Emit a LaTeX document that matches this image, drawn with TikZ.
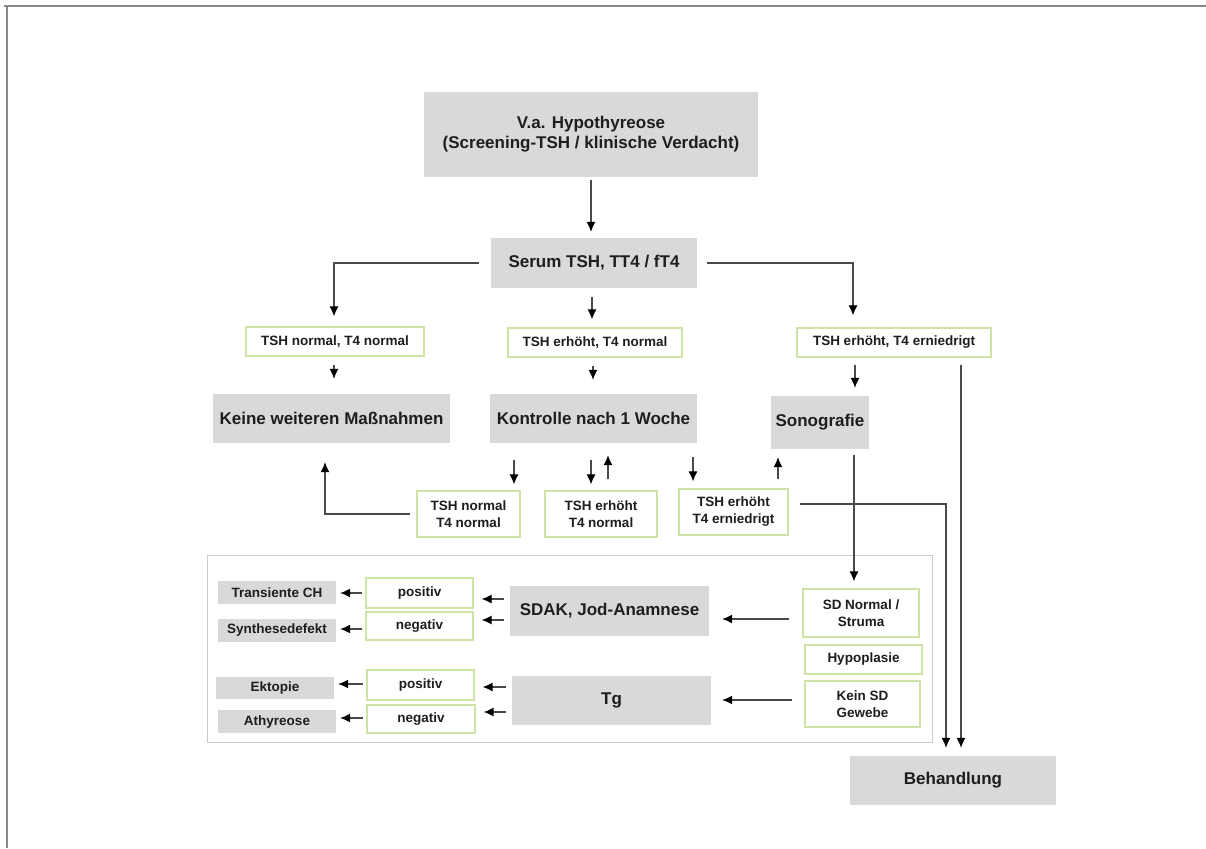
\documentclass[tikz,border=0pt]{standalone}
\usepackage{fontspec}
\setmainfont{Liberation Sans}
\usetikzlibrary{arrows.meta}
\definecolor{boxgray}{HTML}{D9D9D9}
\definecolor{boxgreen}{HTML}{CFE3A6}
\definecolor{linegray}{HTML}{4A4A4A}
\definecolor{txt}{HTML}{1E1E1E}
\definecolor{framegray}{HTML}{888888}
\definecolor{innergray}{HTML}{CCCCCC}
\begin{document}
\begin{tikzpicture}[x=1pt,y=-1pt,
  gbox/.style={fill=boxgray, draw=none, inner sep=0pt, align=center, text=txt,
    font=\bfseries\fontsize{17}{20}\selectfont},
  gboxr/.style={gbox, font=\bfseries\fontsize{17}{20}\selectfont},
  sgray/.style={fill=boxgray, draw=none, inner sep=0pt, align=center, text=txt,
    font=\bfseries\fontsize{13.5}{16}\selectfont},
  lbox/.style={draw=boxgreen, line width=1.3pt, fill=white, inner sep=0pt, align=center, text=txt,
    font=\bfseries\fontsize{13.5}{17}\selectfont},
  arr/.style={draw=linegray, line width=1.1pt, -{Latex[length=10pt,width=9pt,color=black]}}
]
\useasboundingbox (0,0) rectangle (1206,848);
% outer frame
\draw[framegray, line width=2pt] (4,6.5) -- (1206,6.5);
\draw[framegray, line width=2pt] (7,6) -- (7,848);
% inner frame
\draw[innergray, line width=1pt] (207,555) rectangle (932,742);

% nodes
\node[gbox, minimum width=334pt, minimum height=85pt] (top) at (591,134.5)
  {V.a. Hypothyreose\\(Screening-TSH / klinische Verdacht)};
\node[gbox, minimum width=206pt, minimum height=50pt] (serum) at (594,263) {Serum TSH, TT4 / fT4};
\node[lbox, minimum width=178pt, minimum height=29pt] (g1) at (335,341.5) {TSH normal, T4 normal};
\node[lbox, minimum width=174pt, minimum height=29pt] (g2) at (595,342.5) {TSH erhöht, T4 normal};
\node[lbox, minimum width=194pt, minimum height=29pt] (g3) at (894,342.5) {TSH erhöht, T4 erniedrigt};
\node[gbox, minimum width=237pt, minimum height=49pt] (keine) at (331.5,418.5) {Keine weiteren Maßnahmen};
\node[gbox, minimum width=207pt, minimum height=49pt] (kontr) at (593.5,418.5) {Kontrolle nach 1 Woche};
\node[gbox, minimum width=98pt, minimum height=53pt] (sono) at (820,422.5) {Sonografie};
\node[lbox, minimum width=103pt, minimum height=46pt] (s1) at (468.5,514) {TSH normal\\T4 normal};
\node[lbox, minimum width=112pt, minimum height=46pt] (s2) at (601,514) {TSH erhöht\\T4 normal};
\node[lbox, minimum width=109pt, minimum height=46pt] (s3) at (733.5,512) {TSH erhöht\\T4 erniedrigt};

\node[sgray, minimum width=118pt, minimum height=23pt] (trans) at (277,592.5) {Transiente CH};
\node[sgray, minimum width=118pt, minimum height=23pt] (synth) at (277,630.5) {Synthesedefekt};
\node[sgray, minimum width=118pt, minimum height=22pt] (ekto) at (275,688) {Ektopie};
\node[sgray, minimum width=118pt, minimum height=23pt] (athy) at (277,721.5) {Athyreose};
\node[lbox, minimum width=107pt, minimum height=30pt] (pos1) at (419.5,593) {positiv};
\node[lbox, minimum width=107pt, minimum height=28pt] (neg1) at (419.5,626) {negativ};
\node[lbox, minimum width=107pt, minimum height=30pt] (pos2) at (420.5,685) {positiv};
\node[lbox, minimum width=108pt, minimum height=28pt] (neg2) at (421,719) {negativ};
\node[gboxr, minimum width=199pt, minimum height=50pt] (sdak) at (609.5,611) {SDAK, Jod-Anamnese};
\node[gboxr, minimum width=199pt, minimum height=49pt] (tg) at (611.5,700.5) {Tg};
\node[lbox, minimum width=116pt, minimum height=48pt] (sdn) at (861,613) {SD Normal /\\Struma};
\node[lbox, minimum width=117pt, minimum height=29pt] (hypo) at (863.5,659.5) {Hypoplasie};
\node[lbox, minimum width=115pt, minimum height=46pt] (kein) at (862.5,704) {Kein SD\\Gewebe};
\node[gbox, minimum width=206pt, minimum height=49pt] (beh) at (953,780.5) {Behandlung};

% connectors
\draw[arr, shorten <=3pt, shorten >=6pt] (top.south) -- (top.south |- serum.north);
\draw[arr, shorten <=12pt, shorten >=10pt] (serum.west) -| ([xshift=-1pt]g1.north);
\draw[arr, shorten <=10pt, shorten >=12pt] (serum.east) -| ([xshift=-41pt]g3.north);
\draw[arr, shorten <=9pt, shorten >=8pt] ([xshift=-3pt]g2.north |- serum.south) -- ([xshift=-3pt]g2.north);
\draw[arr, shorten <=8pt, shorten >=15pt] ([xshift=-1pt]g1.south) -- ([xshift=-1pt]g1.south |- keine.north);
\draw[arr, shorten <=8pt, shorten >=14pt] ([xshift=-2pt]g2.south) -- ([xshift=-2pt]g2.south |- kontr.north);
\draw[arr, shorten <=7pt, shorten >=8pt] ([xshift=-39pt]g3.south) -- ([xshift=-39pt]g3.south |- sono.north);
\draw[arr, shorten <=7pt, shorten >=8pt] ([xshift=67pt]g3.south) -- ([xshift=67pt]g3.south |- beh.north);
\draw[arr, shorten <=6pt, shorten >=7pt] ([xshift=34pt]sono.south) -- ([xshift=34pt]sono.south |- sdn.north);
\draw[arr, shorten <=11pt, shorten >=8pt] ([yshift=8pt]s3.east) -| ([xshift=-7pt]beh.north);
% Kontrolle row
\draw[arr, shorten <=17pt, shorten >=6pt] ([xshift=45.5pt]s1.north |- kontr.south) -- ([xshift=45.5pt]s1.north);
\draw[arr, shorten <=17pt, shorten >=6pt] ([xshift=-10pt]s2.north |- kontr.south) -- ([xshift=-10pt]s2.north);
\draw[arr, shorten <=11pt, shorten >=12pt] ([xshift=7pt]s2.north) -- ([xshift=7pt]s2.north |- kontr.south);
\draw[arr, shorten <=14pt, shorten >=7pt] ([xshift=-40.5pt]s3.north |- kontr.south) -- ([xshift=-40.5pt]s3.north);
\draw[arr, shorten <=9pt, shorten >=8pt] ([xshift=-42pt]sono.south |- s3.north) -- ([xshift=-42pt]sono.south);
\draw[arr, shorten <=6pt, shorten >=19pt] (s1.west) -| ([xshift=-6.5pt]keine.south);
% lower box
\draw[arr, shorten <=3pt, shorten >=4pt] (pos1.west) -- (pos1.west -| trans.east);
\draw[arr, shorten <=3pt, shorten >=4pt] ([yshift=-3pt]neg1.west) -- ([yshift=-3pt]neg1.west -| synth.east);
\draw[arr, shorten <=3pt, shorten >=4pt] ([yshift=1pt]pos2.west) -- ([yshift=1pt]pos2.west -| ekto.east);
\draw[arr, shorten <=3pt, shorten >=4pt] ([yshift=1pt]neg2.west) -- ([yshift=1pt]neg2.west -| athy.east);
\draw[arr, shorten <=6pt, shorten >=8pt] ([yshift=12pt]sdak.west) -- ([yshift=12pt]sdak.west -| pos1.east);
\draw[arr, shorten <=6pt, shorten >=8pt] ([yshift=-9pt]sdak.west) -- ([yshift=-9pt]sdak.west -| neg1.east);
\draw[arr, shorten <=6pt, shorten >=8pt] ([yshift=13.5pt]tg.west) -- ([yshift=13.5pt]tg.west -| pos2.east);
\draw[arr, shorten <=6pt, shorten >=8pt] ([yshift=-11.5pt]tg.west) -- ([yshift=-11.5pt]tg.west -| neg2.east);
\draw[arr, shorten <=13pt, shorten >=13pt] ([yshift=-6pt]sdn.west) -- ([yshift=-6pt]sdn.west -| sdak.east);
\draw[arr, shorten <=12pt, shorten >=11pt] ([yshift=4pt]kein.west) -- ([yshift=4pt]kein.west -| tg.east);
\end{tikzpicture}
\end{document}
